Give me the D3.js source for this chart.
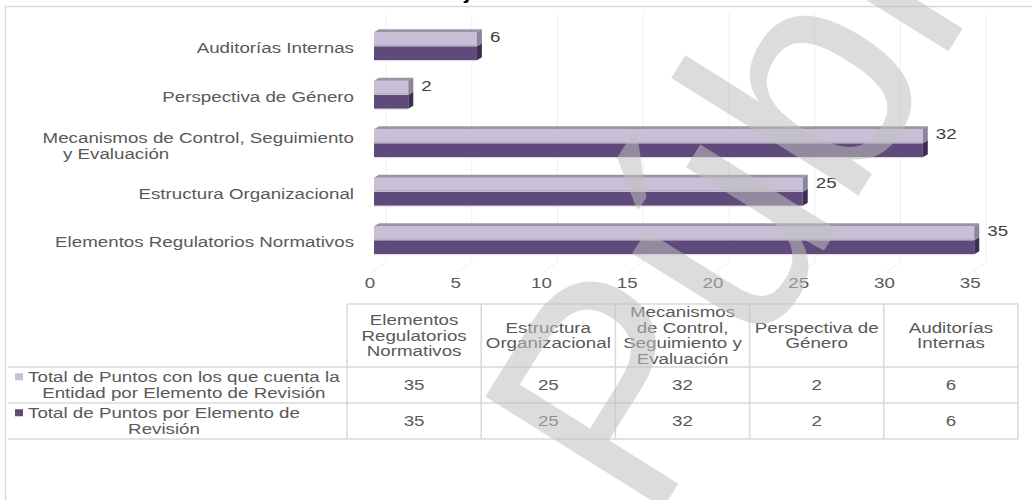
<!DOCTYPE html>
<html>
<head>
<meta charset="utf-8">
<script src="https://cdn.jsdelivr.net/npm/d3@7"></script>
<style>
  html, body { margin: 0; padding: 0; background: #ffffff; }
  svg { display: block; font-family: "Liberation Sans", Arial, sans-serif; }
</style>
</head>
<body>
<svg id="chart" width="1032" height="500"></svg>
<script>
// ---------------- data ----------------
const categories = [
  "Elementos Regulatorios Normativos",
  "Estructura Organizacional",
  "Mecanismos de Control, Seguimiento y Evaluación",
  "Perspectiva de Género",
  "Auditorías Internas"
];
const axisLabelLines = [
  ["Elementos Regulatorios Normativos"],
  ["Estructura Organizacional"],
  ["Mecanismos de Control, Seguimiento", "y Evaluación"],
  ["Perspectiva de Género"],
  ["Auditorías Internas"]
];
const tableHeaderLines = [
  ["Elementos", "Regulatorios", "Normativos"],
  ["Estructura", "Organizacional"],
  ["Mecanismos", "de Control,", "Seguimiento y", "Evaluación"],
  ["Perspectiva de", "Género"],
  ["Auditorías", "Internas"]
];
const seriesNames = [
  "Total de Puntos con los que cuenta la Entidad por Elemento de Revisión",
  "Total de Puntos por Elemento de Revisión"
];
const seriesNameLines = [
  ["Total de Puntos con los que cuenta la", "Entidad por Elemento de Revisión"],
  ["Total de Puntos por Elemento de", "Revisión"]
];
const seriesEntidad = [35, 25, 32, 2, 6];
const seriesTotal   = [35, 25, 32, 2, 6];
const xTicks = [0, 5, 10, 15, 20, 25, 30, 35];
const titleText = "Ejercicio";
const watermarkText = "Público";

// ---------------- setup ----------------
const svg = d3.select("#chart");
const SX = 1.25;               // horizontal text stretch of the source image
const FS = 15;
const textColor = "#595959";
const colLight = "#c9c0d8", colDark = "#604a7b";
const topFace = "#9c93a6", sideLight = "#8c8498", sideDark = "#3e2f52";
const gridCol = "#efefef", tableLine = "#d9d9d9";

function addText(g, x, y, str, anchor, opt = {}) {
  return g.append("text")
    .attr("transform", `translate(${x},${y}) scale(${opt.sx || SX},1)`)
    .attr("text-anchor", anchor)
    .attr("font-size", opt.size || FS)
    .attr("font-weight", opt.weight || "normal")
    .attr("fill", opt.fill || textColor)
    .text(str);
}

// outer frame
svg.append("rect").attr("x", 5.5).attr("y", 6.5).attr("width", 1040).attr("height", 500)
  .attr("fill", "none").attr("stroke", tableLine).attr("stroke-width", 1.5);

// clipped title (only its bottom is visible in the source)
addText(svg, 449, -1.5, titleText, "start", { size: 18, weight: "bold", fill: "#000" });

// scales
const x = d3.scaleLinear().domain([0, 35]).range([374, 374 + 35 * 17.15]);
const order = categories.map((c, i) => i).reverse(); // Auditorías at top
const y = d3.scaleBand().domain(order).range([22, 264.5]);
const half = 14, dx = 5, dy = 3, wallDx = 12;

// back wall gridlines + floor lines
const grid = svg.append("g");
xTicks.forEach(t => {
  grid.append("line").attr("x1", x(t) + wallDx).attr("x2", x(t) + wallDx)
    .attr("y1", 13).attr("y2", 262).attr("stroke", gridCol).attr("stroke-width", 1);
  grid.append("line").attr("x1", x(t) + wallDx).attr("x2", x(t) - 2)
    .attr("y1", 262).attr("y2", 272).attr("stroke", gridCol).attr("stroke-width", 1);
});

// bars
const bars = svg.append("g");
order.forEach(i => {
  const c = y(i) + y.bandwidth() / 2;
  const x0 = x(0), x1 = x(seriesEntidad[i]), x2 = x(seriesTotal[i]);
  // dark (Total) bar - lower half
  bars.append("rect").attr("x", x0).attr("y", c).attr("width", x2 - x0).attr("height", half).attr("fill", colDark);
  bars.append("polygon").attr("points", [[x2, c], [x2 + dx, c - dy], [x2 + dx, c + half - dy], [x2, c + half]].join(" "))
    .attr("fill", sideDark);
  bars.append("line").attr("x1", x0).attr("x2", x2).attr("y1", c + half + 0.5).attr("y2", c + half + 0.5)
    .attr("stroke", "#e3e0e8").attr("stroke-width", 1);
  // light (Entidad) bar - upper half
  bars.append("rect").attr("x", x0).attr("y", c - half).attr("width", x1 - x0).attr("height", half).attr("fill", colLight);
  bars.append("line").attr("x1", x0).attr("x2", x1).attr("y1", c - 1).attr("y2", c - 1)
    .attr("stroke", "#b3aabf").attr("stroke-width", 1);
  bars.append("polygon").attr("points", [[x0, c - half], [x1, c - half], [x1 + dx, c - half - dy], [x0 + dx, c - half - dy]].join(" "))
    .attr("fill", topFace);
  bars.append("polygon").attr("points", [[x1, c - half], [x1 + dx, c - half - dy], [x1 + dx, c - dy], [x1, c]].join(" "))
    .attr("fill", sideLight);
  // value label
  addText(bars, Math.max(x1, x2) + dx + 8, c - 4, String(seriesEntidad[i]), "start", { fill: "#404040" });
});

// category labels
const cat = svg.append("g");
order.forEach(i => {
  const c = y(i) + y.bandwidth() / 2;
  const lines = axisLabelLines[i];
  if (lines.length === 1) {
    addText(cat, 354, c + 7, lines[0], "end");
  } else {
    addText(cat, 354, c - 0.5, lines[0], "end");
    addText(cat, 63, c + 15.5, lines[1], "start");
  }
});

// x tick labels
const ticks = svg.append("g");
xTicks.forEach(t => addText(ticks, x(t) - 4, 288, String(t), "middle"));

// ---------------- data table ----------------
const tbl = svg.append("g");
const colScale = d3.scaleBand().domain(categories.map((c, i) => i)).range([347, 1018]);
const rowTop = 304, rowHead = 367, rowA = 403, rowB = 439, legLeft = 8;
const lineAttr = sel => sel.attr("stroke", tableLine).attr("stroke-width", 1.5);
lineAttr(tbl.append("line").attr("x1", 347).attr("x2", 1018).attr("y1", rowTop).attr("y2", rowTop));
[rowHead, rowA, rowB].forEach(yy => lineAttr(tbl.append("line").attr("x1", legLeft).attr("x2", 1018).attr("y1", yy).attr("y2", yy)));
categories.forEach((c, i) => {
  lineAttr(tbl.append("line").attr("x1", colScale(i)).attr("x2", colScale(i)).attr("y1", rowTop).attr("y2", rowB));
});
lineAttr(tbl.append("line").attr("x1", 1018).attr("x2", 1018).attr("y1", rowTop).attr("y2", rowB));

// header
categories.forEach((c, i) => {
  const cx = colScale(i) + colScale.bandwidth() / 2;
  const lines = tableHeaderLines[i];
  const mid = (rowTop + rowHead) / 2, lh = 15.5;
  lines.forEach((ln, k) => addText(tbl, cx, mid + (k - (lines.length - 1) / 2) * lh + 5, ln, "middle"));
});

// values
const seriesVals = [seriesEntidad, seriesTotal];
const rowMids = [(rowHead + rowA) / 2, (rowA + rowB) / 2];
seriesVals.forEach((vals, s) => {
  vals.forEach((v, i) => {
    const cx = colScale(i) + colScale.bandwidth() / 2;
    addText(tbl, cx, rowMids[s] + 5, String(v), "middle");
  });
});

// legend cells
const legCols = [colLight, colDark];
seriesNameLines.forEach((lines, s) => {
  const mid = rowMids[s], lh = 15.5;
  const y0 = mid - (lines.length - 1) / 2 * lh;
  tbl.append("rect").attr("x", 15).attr("y", y0 - 4).attr("width", 8).attr("height", 7).attr("fill", legCols[s]);
  const widths = lines.map(ln => {
    const t = svg.append("text").attr("font-size", FS).text(ln);
    const w = t.node().getComputedTextLength() * SX; t.remove(); return w;
  });
  const blockCenter = 28 + d3.max(widths) / 2;
  lines.forEach((ln, k) => addText(tbl, blockCenter, y0 + k * lh + 5, ln, "middle"));
});

// ---------------- watermark ----------------
svg.append("text")
  .attr("transform", "translate(650,529) rotate(-58)")
  .attr("font-size", 305)
  .attr("fill", "#bfbfbf")
  .attr("fill-opacity", 0.55)
  .text(watermarkText);
</script>
</body>
</html>
